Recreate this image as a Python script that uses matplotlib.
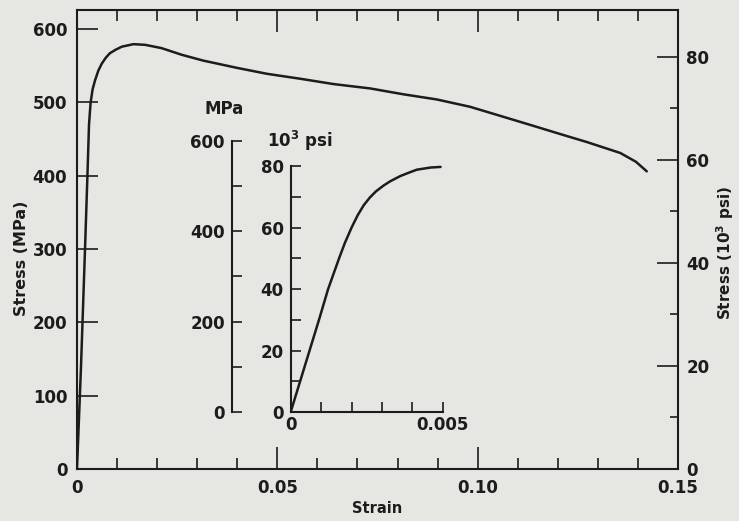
import numpy as np
import matplotlib
matplotlib.use('Agg')
import matplotlib.pyplot as plt
from matplotlib.ticker import MultipleLocator, FixedLocator, FixedFormatter

# main curve: strain vs stress (MPa)
strain = [0, 0.001, 0.002, 0.0026, 0.003, 0.0034, 0.0039, 0.0045, 0.0053, 0.0062,
          0.0072, 0.0082, 0.0097, 0.0112, 0.0141, 0.017, 0.0211, 0.0261, 0.0315,
          0.040, 0.0474, 0.056, 0.064, 0.0732, 0.0815, 0.0898, 0.0981, 0.1048,
          0.1139, 0.1205, 0.1272, 0.1356, 0.1395, 0.1422]
stress_mpa = [0, 140, 300, 400, 470, 500, 518, 530, 543, 553,
              561, 567, 572, 576, 579.4, 578.5, 574, 565, 557,
              547, 539, 532, 525, 519, 511, 504, 494, 483,
              468, 457, 446, 431, 419, 406]

# inset: elastic region, strain vs stress (10^3 psi)
strain_in = [0, 0.00031, 0.00062, 0.00093, 0.00123, 0.00159, 0.00178, 0.0020,
             0.0022, 0.0024, 0.0026, 0.0028, 0.00305, 0.00327, 0.0036,
             0.00388, 0.00415, 0.0046, 0.00493]
stress_ksi = [0, 10, 20, 30, 40, 50, 55, 60,
              64, 67.3, 69.8, 71.8, 73.7, 75.1, 76.8,
              77.9, 78.9, 79.6, 79.8]

x_major = [0, 0.05, 0.10, 0.15]
x_major_labels = ['0', '0.05', '0.10', '0.15']
mpa_ticks = [0, 100, 200, 300, 400, 500, 600]
psi_ticks = [0, 20, 40, 60, 80]
in_mpa_ticks = [0, 200, 400, 600]
in_x_ticks = [0, 0.001, 0.002, 0.003, 0.004, 0.005]
in_x_labels = ['0', '', '', '', '', '0.005']

plt.rcParams['font.family'] = 'DejaVu Sans'
plt.rcParams['font.weight'] = 'bold'
plt.rcParams['mathtext.fontset'] = 'dejavusans'

bg = '#e6e6e3'
ink = '#1c1c1c'
W, H = 739, 521

fig = plt.figure(figsize=(W / 100, H / 100), dpi=100, facecolor=bg)

# ---- main axes ----
ax = fig.add_axes([77 / W, 1 - 469 / H, 601 / W, 459 / H])
ax.set_facecolor('none')
ax.plot(strain, stress_mpa, color=ink, lw=1.8, solid_capstyle='round',
        solid_joinstyle='round')
ax.set_xlim(0, 0.15)
ax.set_ylim(0, 626)
for s in ax.spines.values():
    s.set_linewidth(1.5)
    s.set_color(ink)

ax.xaxis.set_major_locator(FixedLocator(x_major))
ax.xaxis.set_major_formatter(FixedFormatter(x_major_labels))
ax.xaxis.set_minor_locator(MultipleLocator(0.01))
ax.yaxis.set_major_locator(FixedLocator(mpa_ticks))
ax.tick_params(axis='x', which='major', direction='in', length=16, width=1.2,
               top=True, labelsize=12, pad=7, colors=ink)
ax.tick_params(axis='x', which='minor', direction='in', length=8, width=1.2,
               top=True, colors=ink)
ax.tick_params(axis='y', which='major', direction='in', length=15, width=1.2,
               labelsize=12, pad=7, colors=ink)
ax.set_xlabel('Strain', fontsize=10.5, fontweight='bold', color=ink, labelpad=3)
ax.set_ylabel('Stress (MPa)', fontsize=11.5, fontweight='bold', color=ink)
ax.yaxis.set_label_coords(-0.08, 0.46)

ax2 = ax.twinx()
ax2.set_ylim(0, 89.1)
ax2.yaxis.set_major_locator(FixedLocator(psi_ticks))
ax2.yaxis.set_minor_locator(MultipleLocator(10))
ax2.tick_params(axis='y', which='major', direction='in', length=15, width=1.2,
                labelsize=12, pad=6, colors=ink)
ax2.tick_params(axis='y', which='minor', direction='in', length=6, width=1.2, colors=ink)
for s in ax2.spines.values():
    s.set_visible(False)
ax2.set_ylabel(r'Stress (10$^{\mathbf{3}}$ psi)', fontsize=11, fontweight='bold',
               color=ink)
ax2.yaxis.set_label_coords(1.061, 0.47)

# ---- inset ----
axi = fig.add_axes([290.7 / W, 1 - 412 / H, 152 / W, 271.8 / H])
axi.set_facecolor('none')
axi.plot(strain_in, stress_ksi, color=ink, lw=1.8, solid_capstyle='round',
         solid_joinstyle='round')
axi.set_xlim(0, 0.005)
axi.set_ylim(0, 88.5)
axi.spines['top'].set_visible(False)
axi.spines['right'].set_visible(False)
axi.spines['left'].set_bounds(0, 80)
for k in ('left', 'bottom'):
    axi.spines[k].set_linewidth(1.5)
    axi.spines[k].set_color(ink)
axi.xaxis.set_major_locator(FixedLocator(in_x_ticks))
axi.xaxis.set_major_formatter(FixedFormatter(in_x_labels))
axi.yaxis.set_major_locator(FixedLocator(psi_ticks))
axi.yaxis.set_minor_locator(MultipleLocator(10))
axi.tick_params(axis='x', direction='in', length=7, width=1.2, labelsize=12,
                pad=3, colors=ink)
axi.tick_params(axis='y', which='both', direction='in', length=7, width=1.2,
                labelsize=12, pad=5, colors=ink)

axm = axi.twinx()
axm.set_ylim(0, 601)
for k in ('top', 'right', 'bottom'):
    axm.spines[k].set_visible(False)
axm.spines['left'].set_visible(True)
axm.spines['left'].set_position(('outward', 59 * 0.72))
axm.spines['left'].set_bounds(0, 600)
axm.spines['left'].set_linewidth(1.5)
axm.spines['left'].set_color(ink)
axm.yaxis.set_ticks_position('left')
axm.yaxis.set_major_locator(FixedLocator(in_mpa_ticks))
axm.yaxis.set_minor_locator(MultipleLocator(100))
axm.tick_params(axis='y', which='both', direction='in', length=7, width=1.2,
                labelsize=12, pad=5, colors=ink)

fig.text(224 / W, 1 - 109 / H, 'MPa', ha='center', va='center', fontsize=12,
         fontweight='bold', color=ink)
fig.text(300 / W, 1 - 141 / H, r'10$^{\mathbf{3}}$ psi', ha='center', va='center',
         fontsize=12, fontweight='bold', color=ink)

fig.savefig('out.png', dpi=100, facecolor=bg)
